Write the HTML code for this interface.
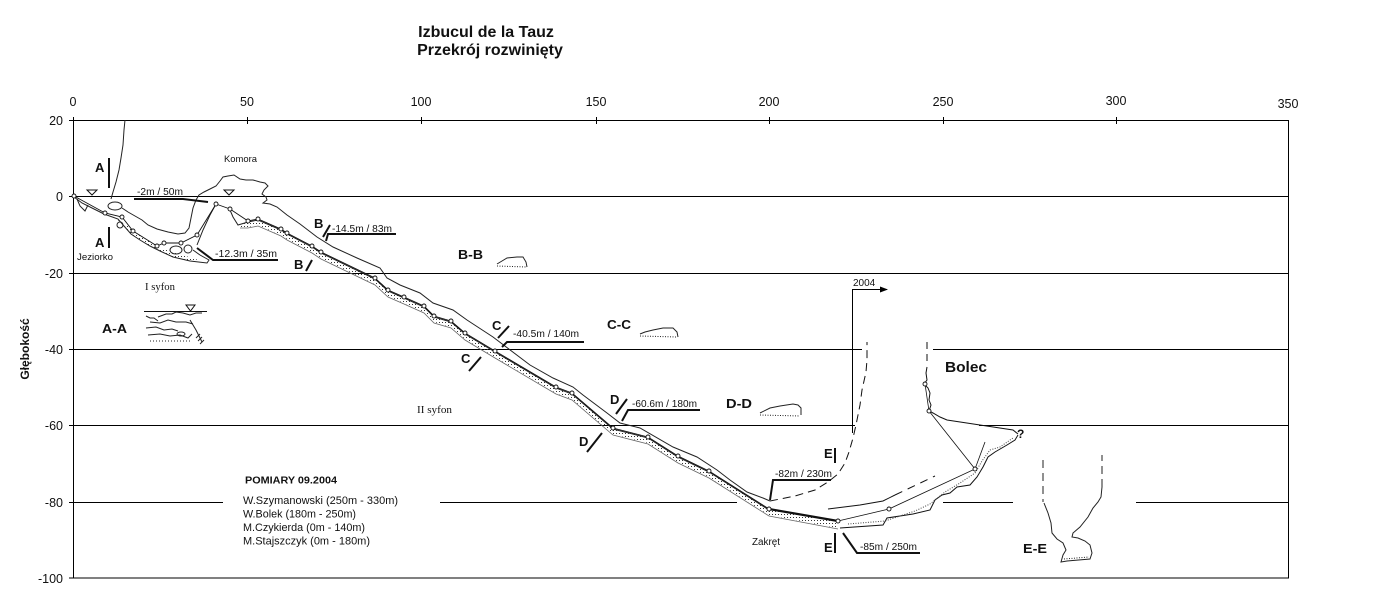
<!DOCTYPE html>
<html><head><meta charset="utf-8"><style>
html,body{margin:0;padding:0;background:#fff;}
svg{display:block;}
text{font-family:"Liberation Sans",Arial,sans-serif;}
.serif{font-family:"Liberation Serif","Times New Roman",serif;}
</style></head><body>
<svg width="1400" height="603" viewBox="0 0 1400 603" xmlns="http://www.w3.org/2000/svg">
<defs>
<pattern id="dots" width="3" height="3" patternUnits="userSpaceOnUse"><rect x="1" y="1" width="1" height="1" fill="#333"/></pattern>
<marker id="arr" markerWidth="8" markerHeight="6" refX="7" refY="3" orient="auto" markerUnits="userSpaceOnUse"><path d="M0,0 L8,3 L0,6 Z" fill="#000"/></marker>
</defs>
<rect width="1400" height="603" fill="#fff"/>

<!-- Title -->
<text x="486" y="37" font-size="16" font-weight="bold" text-anchor="middle" fill="#111">Izbucul de la Tauz</text>
<text x="490" y="55" font-size="16" font-weight="bold" text-anchor="middle" fill="#111">Przekrój rozwinięty</text>

<!-- Frame and grid -->
<g stroke="#000" stroke-width="1.2" fill="none" shape-rendering="crispEdges">
<rect x="73.5" y="120.5" width="1215" height="457.5"/>
<line x1="73" y1="196.5" x2="1288" y2="196.5"/>
<line x1="73" y1="273.5" x2="1288" y2="273.5"/>
<line x1="73" y1="349.5" x2="862" y2="349.5"/>
<line x1="933" y1="349.5" x2="1288" y2="349.5"/>
<line x1="73" y1="425.5" x2="855" y2="425.5"/>
<line x1="979" y1="425.5" x2="1288" y2="425.5"/>
<line x1="73" y1="502.5" x2="223" y2="502.5"/>
<line x1="440" y1="502.5" x2="737" y2="502.5"/>
<line x1="943" y1="502.5" x2="1013" y2="502.5"/>
<line x1="1136" y1="502.5" x2="1288" y2="502.5"/>
<line x1="73.5" y1="117" x2="73.5" y2="124"/>
<line x1="247.5" y1="117" x2="247.5" y2="124"/>
<line x1="421.5" y1="117" x2="421.5" y2="124"/>
<line x1="596.5" y1="117" x2="596.5" y2="124"/>
<line x1="769.5" y1="117" x2="769.5" y2="124"/>
<line x1="943.5" y1="117" x2="943.5" y2="124"/>
<line x1="1116.5" y1="117" x2="1116.5" y2="124"/>
<line x1="69" y1="120.5" x2="73" y2="120.5"/>
<line x1="69" y1="196.5" x2="73" y2="196.5"/>
<line x1="69" y1="273.5" x2="73" y2="273.5"/>
<line x1="69" y1="349.5" x2="73" y2="349.5"/>
<line x1="69" y1="425.5" x2="73" y2="425.5"/>
<line x1="69" y1="502.5" x2="73" y2="502.5"/>
<line x1="69" y1="578" x2="73" y2="578"/>
</g>

<!-- Axis labels -->
<g font-size="12.5" fill="#111" text-anchor="middle">
<text x="73" y="106">0</text>
<text x="247" y="106">50</text>
<text x="421" y="106">100</text>
<text x="596" y="106">150</text>
<text x="769" y="106">200</text>
<text x="943" y="106">250</text>
<text x="1116" y="105">300</text>
<text x="1288" y="108">350</text>
</g>
<g font-size="12.5" fill="#111" text-anchor="end">
<text x="63" y="125">20</text>
<text x="63" y="201">0</text>
<text x="63" y="278">-20</text>
<text x="63" y="354">-40</text>
<text x="63" y="430">-60</text>
<text x="63" y="507">-80</text>
<text x="63" y="583">-100</text>
</g>
<text transform="translate(29,349) rotate(-90)" font-size="12" font-weight="bold" text-anchor="middle" fill="#111">Głębokość</text>

<!-- Cave: first section -->
<g fill="none" stroke="#222" stroke-width="1">
<polyline points="125,120 124,130 123,145 121,158 119,170 116,182 113,192 111,199"/>
<ellipse cx="115" cy="206" rx="7" ry="4"/>
<polyline points="122,208 128,212 135,216 142,220 148,225 157,229 168,232 178,234 185,233 189,228 191,218 193,208 196,200 199,195 204,192 210,189 216,186 220,181 223,177 228,176 234,175 240,179 246,180 253,180 260,182 265,183 268,186 264,190 262,194 266,197 267,200 263,203 270,204 277,207 287,215 300,224 317,237 333,247 357,258 380,268 387,278 400,285 420,293 433,303 453,310 467,320 493,337 530,365 553,378 573,387 583,395 607,413 620,423 640,428 673,447 697,457 717,470 730,480 747,492 763,498 770,501"/>
<polyline points="74,197 82,203 92,208 104,214 118,219 124,226 131,234 140,240 150,246 160,251 173,257 190,261 207,263 209,260 200,255 193,250"/>
<polyline points="77,199 80,206 85,211 88,205"/>
<circle cx="120" cy="225" r="3"/>
<ellipse cx="176" cy="250" rx="6" ry="4"/>
<circle cx="188" cy="249" r="4"/>
<polyline points="216,204 210,215 203,230 197,245"/>
<polyline points="230,210 233,217 238,225 248,222 258,220 281,230 287,234 312,247 321,253 375,279 388,291 404,298 424,307 434,317 451,322 465,334 495,352 556,388 572,394 613,429 648,438 678,457 709,472 769,510"/>
</g>
<polygon points="238,225 248,222 258,220 281,230 287,234 312,247 321,253 375,279 388,291 404,298 424,307 434,317 451,322 465,334 495,352 556,388 572,394 613,429 648,438 678,457 709,472 769,510 838,522 838,528 769,515 709,477 678,462 648,443 613,434 572,399 556,393 495,357 465,339 451,327 434,322 424,312 404,303 388,296 375,284 321,258 312,252 287,239 281,235 258,225 248,227 240,227" fill="url(#dots)" stroke="none"/>
<polyline points="240,228 248,228 258,226 281,236 287,240 312,253 321,259 375,285 388,297 404,304 424,313 434,323 451,328 465,340 495,358 556,394 572,400 613,435 648,444 678,463 709,478 769,516 838,529" fill="none" stroke="#666" stroke-width="0.8"/>
<polygon points="92,208 104,214 118,219 124,226 131,234 140,240 150,246 160,251 173,257 190,261 205,262 160,248 140,236 128,226 110,216" fill="url(#dots)" stroke="none"/>

<!-- bottom passage and right part -->
<g fill="none" stroke="#111">
<line x1="769" y1="509" x2="838" y2="521" stroke-width="2.2"/>
<polyline points="828,509 860,505 883,501 895,495" stroke-width="1"/>
<polyline points="895,495 935,476" stroke-width="1" stroke-dasharray="8 6"/>
<polyline points="840,528 883,525 887,518 913,514 930,510 935,500 942,495 950,493 957,487 970,485 977,477 983,467 988,457 995,452 1007,445 1015,440 1018,435" stroke-width="1"/>
<polyline points="848,524 885,521 915,511 930,504 945,492 960,483 975,473 982,461 990,450 1000,447 1013,438" stroke-width="1" stroke-dasharray="1 1.5" stroke="#444"/>
<polyline points="770,501 795,496 815,490 828,482 838,474 845,463 849,452 853,438 856,425 860,405 862,390 866,372 867,360 867,342" stroke-width="1" stroke-dasharray="8 5"/>
<line x1="927" y1="342" x2="927" y2="364" stroke-width="1" stroke-dasharray="7 5"/>
<polyline points="927,367 926,373 927,380 924,384 928,388 930,393 929,400 931,405 929,411 933,413 940,417 947,420 980,425 1013,430 1018,434" stroke-width="1"/>
<polyline points="838,521 889,509 975,469 929,411" stroke-width="0.8"/>
<line x1="975" y1="469" x2="985" y2="442" stroke-width="0.8"/>
<line x1="925" y1="384" x2="929" y2="411" stroke-width="0.8"/>
</g>
<text x="1017" y="438" font-size="12" font-weight="bold" fill="#111">?</text>

<!-- survey lines -->
<polyline points="74,196 105,213 122,217 133,231 157,246 164,243 181,243 197,235 216,204 230,209 248,221 258,219 281,229 287,233 312,246 321,252 375,278 388,290 404,297 424,306 434,316 451,321 465,333 495,351 556,387 572,393 613,428 648,437 678,456 709,471 769,509" fill="none" stroke="#111" stroke-width="0.9"/>
<g fill="#fff" stroke="#111" stroke-width="0.9">
<circle cx="74" cy="196" r="2"/><circle cx="105" cy="213" r="2"/><circle cx="122" cy="217" r="2"/><circle cx="133" cy="231" r="2"/><circle cx="157" cy="246" r="2"/><circle cx="164" cy="243" r="2"/><circle cx="181" cy="243" r="2"/><circle cx="197" cy="235" r="2"/><circle cx="216" cy="204" r="2"/><circle cx="230" cy="209" r="2"/><circle cx="248" cy="221" r="2"/><circle cx="258" cy="219" r="2"/><circle cx="281" cy="229" r="2"/><circle cx="287" cy="233" r="2"/><circle cx="312" cy="246" r="2"/><circle cx="321" cy="252" r="2"/><circle cx="375" cy="278" r="2"/><circle cx="388" cy="290" r="2"/><circle cx="404" cy="297" r="2"/><circle cx="424" cy="306" r="2"/><circle cx="434" cy="316" r="2"/><circle cx="451" cy="321" r="2"/><circle cx="465" cy="333" r="2"/><circle cx="495" cy="351" r="2"/><circle cx="556" cy="387" r="2"/><circle cx="572" cy="393" r="2"/><circle cx="613" cy="428" r="2"/><circle cx="648" cy="437" r="2"/><circle cx="678" cy="456" r="2"/><circle cx="709" cy="471" r="2"/><circle cx="769" cy="509" r="2"/><circle cx="838" cy="521" r="2"/><circle cx="889" cy="509" r="2"/><circle cx="975" cy="469" r="2"/><circle cx="929" cy="411" r="2"/><circle cx="925" cy="384" r="2"/>
</g>

<g fill="#fff" stroke="#111" stroke-width="1">
<polygon points="87,190 97,190 92,195"/>
<polygon points="224,190 234,190 229,195"/>
</g>

<!-- pointers / section marks -->
<g stroke="#111" stroke-width="2" fill="none">
<line x1="109" y1="158" x2="109" y2="188"/>
<line x1="109" y1="227" x2="109" y2="248"/>
<polyline points="134,199 183,199 208,202"/>
<polyline points="197,248 213,260 278,260"/>
<line x1="323" y1="237" x2="330" y2="225"/>
<polyline points="326,241 328,234 396,234"/>
<line x1="306" y1="271" x2="312" y2="260"/>
<line x1="498" y1="338" x2="509" y2="326"/>
<polyline points="502,347 507,342 584,342"/>
<line x1="469" y1="371" x2="481" y2="357"/>
<line x1="616" y1="414" x2="627" y2="399"/>
<polyline points="622,421 628,410 700,410"/>
<line x1="587" y1="452" x2="602" y2="433"/>
<polyline points="770,500 773,480 831,480"/>
<line x1="835" y1="448" x2="835" y2="463"/>
<line x1="835" y1="533" x2="835" y2="553"/>
<polyline points="843,533 857,553 920,553"/>
</g>

<line x1="852.5" y1="289" x2="852.5" y2="433" stroke="#000" stroke-width="1"/>
<line x1="852" y1="289.5" x2="887" y2="289.5" stroke="#000" stroke-width="1" marker-end="url(#arr)"/>
<text x="853" y="286" font-size="10" fill="#111">2004</text>

<!-- cross sections -->
<g fill="none" stroke="#222" stroke-width="1">
<polyline points="497,264 502,261 507,258 517,257 523,257 526,262 527,267"/>
<polyline points="497,266 527,267" stroke-dasharray="1 1.5"/>
<polyline points="640,334 645,332 653,330 663,328 673,328 677,332 678,337"/>
<polyline points="640,336 677,337" stroke-dasharray="1 1.5"/>
<polyline points="760,413 770,408 780,406 793,404 798,405 801,408 801,415"/>
<polyline points="760,415 800,416" stroke-dasharray="1 1.5"/>
<line x1="1043" y1="460" x2="1043" y2="502" stroke-dasharray="8 5"/>
<polyline points="1044,503 1048,513 1051,523 1052,533 1057,539 1063,543 1066,550 1063,555 1061,562 1067,561 1090,559 1092,553 1090,545 1085,541 1078,538 1072,537 1073,533 1080,527 1088,517 1093,508 1098,502 1101,497 1102,487"/>
<line x1="1102" y1="487" x2="1102" y2="455" stroke-dasharray="8 5"/>
<polyline points="1064,559 1089,557" stroke-dasharray="1 1.5"/>
<line x1="144" y1="311.5" x2="207" y2="311.5" stroke="#111"/>
<polyline points="146,316 150,318 154,318 158,321"/>
<polyline points="158,317 166,314 172,314 176,312 183,313 190,315 196,313 202,313"/>
<polyline points="150,322 160,323 168,320 176,322 186,322 193,324"/>
<polyline points="146,328 156,327 164,330 172,329 178,331"/>
<polyline points="148,335 160,334 170,336 180,335 188,338 192,334"/>
<polyline points="190,320 196,330 202,342"/>
<line x1="196" y1="338" x2="200" y2="334"/>
<line x1="198" y1="341" x2="202" y2="337"/>
<line x1="200" y1="344" x2="204" y2="340"/>
<ellipse cx="181" cy="334" rx="4" ry="2"/>
<polyline points="150,341 192,341" stroke-dasharray="1 2"/>
</g>
<polygon points="186,305 195,305 190.5,311" fill="#fff" stroke="#111" stroke-width="1"/>

<!-- bold section labels -->
<g font-size="13" font-weight="bold" fill="#111">
<text x="95" y="172">A</text>
<text x="95" y="247">A</text>
<text x="102" y="333" textLength="25" lengthAdjust="spacingAndGlyphs">A-A</text>
<text x="314" y="228">B</text>
<text x="294" y="269">B</text>
<text x="458" y="259" textLength="25" lengthAdjust="spacingAndGlyphs">B-B</text>
<text x="492" y="330">C</text>
<text x="461" y="363">C</text>
<text x="607" y="329" textLength="24" lengthAdjust="spacingAndGlyphs">C-C</text>
<text x="610" y="404">D</text>
<text x="579" y="446">D</text>
<text x="726" y="408" textLength="26" lengthAdjust="spacingAndGlyphs">D-D</text>
<text x="824" y="458">E</text>
<text x="824" y="552">E</text>
<text x="1023" y="553" textLength="24" lengthAdjust="spacingAndGlyphs">E-E</text>
</g>
<text x="945" y="372" font-size="15" font-weight="bold" fill="#111" textLength="42" lengthAdjust="spacingAndGlyphs">Bolec</text>

<!-- measurement labels -->
<g font-size="10" fill="#111">
<text x="137" y="195" textLength="46" lengthAdjust="spacingAndGlyphs">-2m / 50m</text>
<text x="215" y="257" textLength="62" lengthAdjust="spacingAndGlyphs">-12.3m / 35m</text>
<text x="332" y="232" textLength="60" lengthAdjust="spacingAndGlyphs">-14.5m / 83m</text>
<text x="513" y="337" textLength="66" lengthAdjust="spacingAndGlyphs">-40.5m / 140m</text>
<text x="632" y="407" textLength="65" lengthAdjust="spacingAndGlyphs">-60.6m / 180m</text>
<text x="775" y="477" textLength="57" lengthAdjust="spacingAndGlyphs">-82m / 230m</text>
<text x="860" y="550" textLength="57" lengthAdjust="spacingAndGlyphs">-85m / 250m</text>
<text x="224" y="162" font-size="9.5" textLength="33" lengthAdjust="spacingAndGlyphs">Komora</text>
<text x="77" y="260" font-size="9.5" textLength="36" lengthAdjust="spacingAndGlyphs">Jeziorko</text>
<text x="752" y="545" textLength="28" lengthAdjust="spacingAndGlyphs">Zakręt</text>
</g>
<g class="serif" font-size="11" fill="#111">
<text class="serif" x="145" y="290" textLength="30" lengthAdjust="spacingAndGlyphs">I syfon</text>
<text class="serif" x="417" y="413" textLength="35" lengthAdjust="spacingAndGlyphs">II syfon</text>
</g>

<!-- legend -->
<text x="245" y="483.5" font-size="10.5" font-weight="bold" fill="#111" textLength="92" lengthAdjust="spacingAndGlyphs">POMIARY 09.2004</text>
<g font-size="11" fill="#111">
<text x="243" y="504" textLength="155" lengthAdjust="spacingAndGlyphs">W.Szymanowski (250m - 330m)</text>
<text x="243" y="517.5" textLength="113" lengthAdjust="spacingAndGlyphs">W.Bolek (180m - 250m)</text>
<text x="243" y="531" textLength="122" lengthAdjust="spacingAndGlyphs">M.Czykierda (0m - 140m)</text>
<text x="243" y="544.5" textLength="127" lengthAdjust="spacingAndGlyphs">M.Stajszczyk (0m - 180m)</text>
</g>
</svg>
</body></html>
